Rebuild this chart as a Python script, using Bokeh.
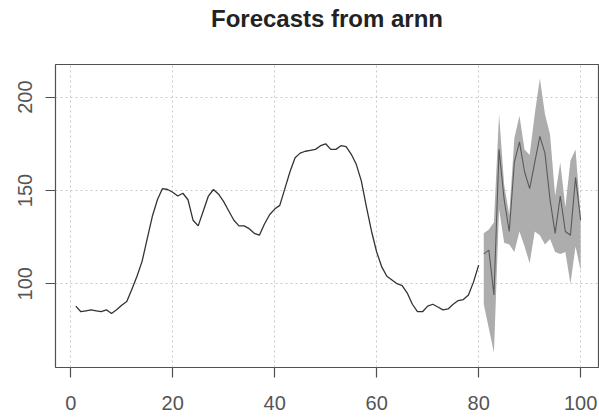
from bokeh.plotting import figure
from bokeh.models import Range1d, FixedTicker, Title
from bokeh.embed import file_html
from bokeh.resources import INLINE

# Observed series (t = 1..80)
hist_t = list(range(1, 81))
hist_v = [88, 85, 85.5, 86, 85.5, 85, 86, 84, 86, 88.5,
          90.5, 97, 104, 112, 124, 136, 145, 151, 150.5, 149,
          147, 148.5, 145, 134, 131, 139, 147, 150.5, 148, 144,
          139, 134, 131, 131, 129.5, 127, 126, 132, 137, 140,
          142, 151, 160, 167.5, 170, 171, 171.5, 172, 174, 175,
          172, 172, 174, 173.5, 169.5, 164, 155, 141, 128, 117,
          109, 104, 102, 100, 99, 95, 89, 85, 85, 88,
          89, 87.5, 86, 86.5, 89, 91, 91.5, 94, 101, 110]

# Forecast (t = 81..100)
fc_t = list(range(81, 101))
fc_mean = [116, 118, 94, 172, 145, 128, 165, 176, 160, 151,
           165, 179, 170, 145, 127, 147, 128, 126, 157, 134]
fc_upper = [127, 129, 133, 191, 153, 137, 178, 190, 172, 169,
            191, 210, 191, 180, 147, 165, 141, 166, 172, 136]
fc_lower = [89, 76, 63, 140, 122, 121, 117, 128, 120, 111,
            128, 126, 121, 124, 117, 116, 117, 100, 120, 107]

x_ticks = [0, 20, 40, 60, 80, 100]
y_ticks = [100, 150, 200]
title_text = "Forecasts from arnn"

FONT = "Liberation Sans"

x0, x1 = -2.98, 103.5
y0, y1 = 55.1, 217.5

p = figure(width=599, height=419, output_backend="svg", toolbar_location=None,
           x_range=Range1d(x0, x1), y_range=Range1d(y0, y1),
           min_border_left=55, min_border_right=1, min_border_top=64,
           min_border_bottom=52, background_fill_color="white",
           border_fill_color="white")

p.outline_line_color = "#505050"
p.outline_line_width = 1.2

for ax in (p.xaxis[0], p.yaxis[0]):
    ax.axis_line_color = None
    ax.major_tick_line_color = "#505050"
    ax.major_tick_line_width = 1.2
    ax.major_tick_out = 10
    ax.major_tick_in = 0
    ax.minor_tick_line_color = None
    ax.major_label_text_font = FONT
    ax.major_label_text_font_size = "20px"
    ax.major_label_text_color = "#555555"

p.xaxis[0].ticker = FixedTicker(ticks=x_ticks)
p.yaxis[0].ticker = FixedTicker(ticks=y_ticks)
p.xaxis[0].major_label_standoff = 18
p.yaxis[0].major_label_standoff = 13
p.yaxis[0].major_label_orientation = "vertical"

p.xgrid.ticker = FixedTicker(ticks=x_ticks)
p.ygrid.ticker = FixedTicker(ticks=y_ticks)
for g in (p.xgrid[0], p.ygrid[0]):
    g.grid_line_color = "#c8c8c8"
    g.grid_line_dash = "2 3"
    g.grid_line_width = 1

p.varea(x=fc_t, y1=fc_lower, y2=fc_upper, fill_color="#adadad", fill_alpha=1.0)
p.line(fc_t, fc_mean, line_color="#5a5a5a", line_width=1.1)
p.line(hist_t, hist_v, line_color="#333333", line_width=1.3)

# spacer (closest to the frame), then the main title above it
p.add_layout(Title(text=" ", text_font_size="16px", standoff=14), "above")
p.add_layout(Title(text=title_text, text_font=FONT, text_font_size="24px",
                   text_font_style="bold", text_color="#222222",
                   align="center", standoff=0, offset=4), "above")

open("out.html", "w").write(file_html(p, INLINE))
